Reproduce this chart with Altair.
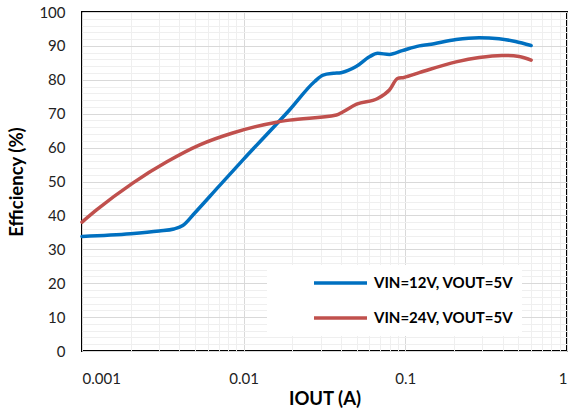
import altair as alt
import pandas as pd

# Efficiency vs. output current, VIN=12V
iout_12v = [0.001, 0.002, 0.003, 0.0037, 0.0042, 0.005, 0.007, 0.01, 0.0192, 0.0275,
            0.031, 0.036, 0.040, 0.0496, 0.060, 0.0674, 0.0797, 0.0958, 0.122, 0.14,
            0.206, 0.286, 0.38, 0.48, 0.6]
eff_12v = [33.8, 34.6, 35.4, 36.0, 37.0, 40.8, 48.5, 56.6, 71.1, 79.5,
           81.4, 81.9, 82.1, 83.9, 86.8, 87.8, 87.5, 88.6, 90.0, 90.4,
           91.9, 92.4, 92.1, 91.3, 90.1]

# Efficiency vs. output current, VIN=24V
iout_24v = [0.001, 0.00123, 0.00207, 0.00335, 0.00535, 0.00855, 0.016, 0.0192, 0.0375,
            0.041, 0.05, 0.0674, 0.0797, 0.0897, 0.098, 0.122, 0.206, 0.286, 0.397,
            0.506, 0.6]
eff_24v = [38.0, 41.6, 49.6, 55.8, 60.8, 64.3, 67.5, 68.1, 69.6,
           70.5, 72.8, 74.5, 77.0, 80.4, 80.7, 82.1, 85.3, 86.6, 87.2,
           86.9, 85.8]

series_names = ["VIN=12V, VOUT=5V", "VIN=24V, VOUT=5V"]
series_colors = ["#0070c0", "#c0504d"]

x_grid = [round(k * 10 ** e, 6) for e in (-3, -2, -1) for k in range(1, 10)] + [1]
y_grid = list(range(0, 101, 2))

df = pd.concat([
    pd.DataFrame({"IOUT": iout_12v, "Eff": eff_12v, "Series": series_names[0]}),
    pd.DataFrame({"IOUT": iout_24v, "Eff": eff_24v, "Series": series_names[1]}),
])

FONT = "Lato"
IS_DECADE = "abs(log(datum.value)/LN10 - round(log(datum.value)/LN10)) < 1e-6"

chart = alt.Chart(df).mark_line(
    strokeWidth=3.5, interpolate="monotone", strokeCap="round"
).encode(
    x=alt.X(
        "IOUT:Q",
        scale=alt.Scale(type="log", domain=[0.001, 1], nice=False),
        axis=alt.Axis(
            title="IOUT (A)",
            values=x_grid,
            labelExpr=IS_DECADE + " ? format(datum.value, '~g') : ''",
            labelOverlap=False,
            ticks=False,
            labelPadding=20,
            titlePadding=3,
            gridColor={
                "condition": {"test": IS_DECADE, "value": "#d9d9d9"},
                "value": "#efefef",
            },
        ),
    ),
    y=alt.Y(
        "Eff:Q",
        scale=alt.Scale(domain=[0, 100], nice=False),
        axis=alt.Axis(
            title="Efficiency (%)",
            values=y_grid,
            labelExpr="datum.value % 10 == 0 ? datum.label : ''",
            labelOverlap=False,
            ticks=False,
            labelPadding=17,
            titlePadding=12,
            gridColor={
                "condition": {"test": "datum.value % 10 == 0", "value": "#d9d9d9"},
                "value": "#efefef",
            },
        ),
    ),
    color=alt.Color(
        "Series:N",
        scale=alt.Scale(domain=series_names, range=series_colors),
        legend=alt.Legend(
            title=None,
            orient="none",
            legendX=185,
            legendY=253,
            direction="vertical",
            symbolType="stroke",
            symbolSize=2809,
            symbolStrokeWidth=3.5,
            symbolOffset=37,
            clipHeight=20,
            rowPadding=15,
            labelOffset=5,
            labelFont=FONT,
            labelFontSize=15,
            labelFontWeight="bold",
            labelColor="#000000",
            labelLimit=300,
            fillColor="white",
            padding=8,
        ),
    ),
).properties(
    width=485,
    height=339,
    background="white",
    autosize=alt.AutoSizeParams(type="none"),
    padding={"left": 82, "top": 12, "right": 4, "bottom": 61},
).configure_view(
    stroke="black", strokeWidth=2
).configure_axis(
    domain=False,
    labelFont=FONT,
    labelFontSize=15,
    labelColor="#222222",
    titleFont=FONT,
    titleFontSize=18.5,
    titleFontWeight="bold",
    titleColor="#000000",
    gridWidth=1,
)

chart.save("out.html", embed_options={"renderer": "svg", "actions": False})
